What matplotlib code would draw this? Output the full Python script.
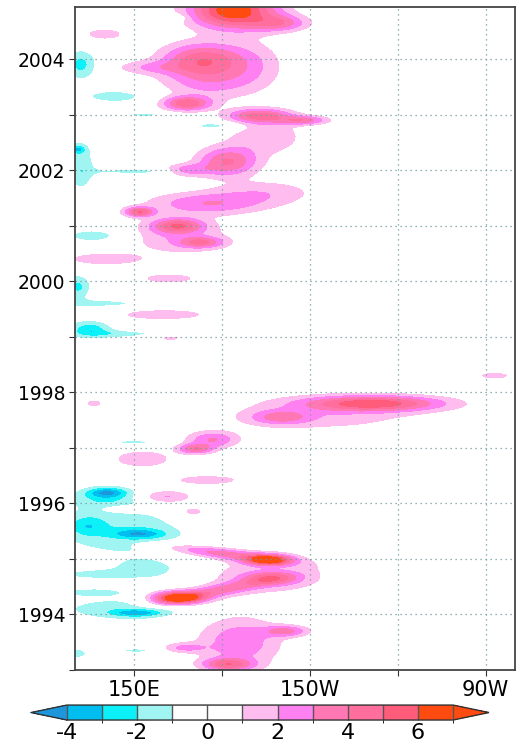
import numpy as np
import matplotlib
matplotlib.use('Agg')
import matplotlib.pyplot as plt
from matplotlib.colors import ListedColormap, BoundaryNorm

plt.rcParams['font.family'] = ['DejaVu Sans']
plt.rcParams['axes.unicode_minus'] = False

# anomalias:
# centro (lon, año), semi-extension hasta el contorno 1, amplitud, inclinacion (año/grado)
blob_lon = [184, 200, 140, 163,
            173, 168, 175, 155, 190, 132, 144, 154,
            193, 208, 195, 178,
            182, 168, 175, 195, 152, 152, 132, 131,
            165, 173, 165, 137, 140, 162, 131, 138, 160, 135, 145, 162, 136.5,
            232, 200, 215, 273,
            177, 150, 171, 153, 175, 141, 140, 161, 170, 149,
            146, 152, 134, 180, 196, 165, 178, 197, 195, 155, 136,
            151, 145, 136,
            186, 182, 202, 167, 151, 131]
blob_year = [2004.88, 2004.65, 2004.45, 2004.75,
             2004.0, 2003.2, 2003.6, 2003.85, 2003.9, 2003.9, 2003.33, 2003.0,
             2002.98, 2002.9, 2002.6, 2002.8,
             2002.15, 2002.0, 2001.4, 2001.6, 2001.25, 2001.98, 2002.05, 2002.38,
             2001.0, 2000.7, 2000.8, 2000.82, 2000.4, 2000.05, 1999.9, 1999.6, 1999.4, 1999.15, 1999.05, 1998.98, 1997.8,
             1997.8, 1997.55, 1997.6, 1998.3,
             1997.15, 1997.1, 1996.98, 1996.8, 1996.42, 1996.2, 1996.1, 1996.12, 1995.85, 1995.9,
             1995.5, 1995.45, 1995.6, 1995.1, 1994.98, 1994.3, 1994.42, 1994.65, 1994.7, 1994.8, 1994.72,
             1994.03, 1994.1, 1994.4,
             1993.5, 1993.1, 1993.7, 1993.4, 1993.35, 1993.3]
blob_hlon = [20, 10, 5, 3,
             16, 10, 14, 8, 8, 5, 8, 4,
             13, 9, 10, 6,
             12, 8, 20, 12, 6, 10, 4, 2.5,
             10, 8, 14, 8, 10, 7, 4, 10, 12, 7, 10, 4, 2,
             30, 10, 22, 4,
             9, 5, 7, 8, 9, 7, 9, 8, 4, 5,
             17, 9, 5, 22, 10, 12, 20, 10, 15, 8, 7,
             9, 15, 7,
             14, 10, 8, 6, 4, 2.5]
blob_hyr = [0.45, 0.15, 0.07, 0.04,
            0.35, 0.15, 0.3, 0.08, 0.3, 0.25, 0.09, 0.03,
            0.15, 0.08, 0.25, 0.06,
            0.3, 0.1, 0.2, 0.15, 0.1, 0.04, 0.35, 0.08,
            0.15, 0.1, 0.25, 0.1, 0.08, 0.06, 0.2, 0.05, 0.07, 0.15, 0.05, 0.03, 0.04,
            0.17, 0.12, 0.2, 0.04,
            0.15, 0.03, 0.1, 0.12, 0.06, 0.1, 0.15, 0.1, 0.07, 0.03,
            0.35, 0.1, 0.15, 0.1, 0.12, 0.15, 0.12, 0.12, 0.25, 0.12, 0.05,
            0.08, 0.15, 0.05,
            0.45, 0.12, 0.1, 0.07, 0.03, 0.07]
blob_amp = [7.0, 3.0, 1.6, -1.4,
            4.2, 4.5, 2.2, 1.6, 1.6, -2.4, -1.4, -1.3,
            4.2, 3.2, 1.8, -1.5,
            4.0, 2.6, 2.8, 1.6, 4.5, -1.4, -1.7, -2.6,
            4.0, 3.2, 1.8, -1.6, 1.7, 1.8, -2.3, -1.4, 1.6, -2.6, -1.5, 1.3, 1.3,
            5.2, 2.6, 1.5, 1.5,
            3.0, -1.3, 3.6, 2.0, 1.6, -3.0, -1.8, 2.3, 1.5, 1.3,
            -1.7, -2.8, -1.8, 3.2, 5.8, 6.8, 3.0, 3.0, 1.5, -1.4, -1.4,
            -2.9, -1.5, -1.6,
            2.8, 3.9, 3.0, 2.0, -1.3, -1.5]
blob_tilt = [0, 0, 0, 0,
             0, 0, 0, 0, 0, 0, 0, 0,
             0, 0, 0, 0,
             0, 0, 0, 0, 0, 0, 0, 0,
             0, 0, 0, 0, 0, 0, 0, 0, 0, 0, 0, 0, 0,
             0, 0, 0, 0,
             0, 0, 0, 0, 0, 0, 0, 0, 0, 0,
             0, 0, 0, -0.006, 0, 0, 0.01, 0, 0, 0, 0,
             0, 0, 0,
             0, 0, 0, 0, 0, 0]

levels = [-4, -3, -2, -1, 0, 1, 2, 3, 4, 5, 6, 7]
colors = ['#00bef0', '#0cf0f8', '#a0f5f3', '#ffffff', '#ffffff', '#ffbdef',
          '#ff80f0', '#ff78b4', '#ff6e9c', '#ff5c7c', '#ff4a10']

lon = np.linspace(130, 280, 301)
yr = np.linspace(1993.0, 2004.94, 600)
LON, YR = np.meshgrid(lon, yr)
campo = np.zeros_like(LON)
for l0, t0, hl, ht, a, tl in zip(blob_lon, blob_year, blob_hlon, blob_hyr, blob_amp, blob_tilt):
    k = np.sqrt(2 * np.log(abs(a)))
    sl, st = hl / k, ht / k
    campo += a * np.exp(-0.5 * ((LON - l0) / sl) ** 2
                        - 0.5 * ((YR - t0 - tl * (LON - l0)) / st) ** 2)

cmap = ListedColormap(colors)
cmap.set_under('#1e96dc')
cmap.set_over('#ff4a10')
norm = BoundaryNorm(levels, cmap.N)

fig = plt.figure(figsize=(5.25, 7.48), dpi=100)
ax = fig.add_axes([0.1429, 0.1043, 0.838, 0.8864])
cf = ax.contourf(LON, YR, campo, levels=levels, cmap=cmap, norm=norm, extend='both')

ax.set_xlim(130, 280)
ax.set_ylim(1993.0, 2004.94)
ax.set_xticks([150, 180, 210, 240, 270])
ax.set_xticklabels(['150E', '', '150W', '', '90W'])
ax.set_yticks(range(1993, 2005))
ax.set_yticklabels([str(y) if y % 2 == 0 else '' for y in range(1993, 2005)])
ax.tick_params(direction='out', length=4, width=0.8, pad=3, color='#333333')
ax.tick_params(axis='x', labelsize=15)
ax.tick_params(axis='y', labelsize=13.5)
ax.grid(True, color='#6f9a9a', linestyle=(0, (1, 3)), linewidth=0.9)
for s in ax.spines.values():
    s.set_color('#444444')
    s.set_linewidth(1.3)

cax = fig.add_axes([0.059, 0.0374, 0.8724, 0.02])
cb = fig.colorbar(cf, cax=cax, orientation='horizontal', extendfrac=0.093,
                  drawedges=True, ticks=[-4, -2, 0, 2, 4, 6])
cb.outline.set_edgecolor('#333333')
cb.outline.set_linewidth(1.0)
cb.dividers.set_color('#555555')
cb.dividers.set_linewidth(1.0)
cax.tick_params(length=0, labelsize=16, pad=2)

fig.savefig('out.png', dpi=100)
